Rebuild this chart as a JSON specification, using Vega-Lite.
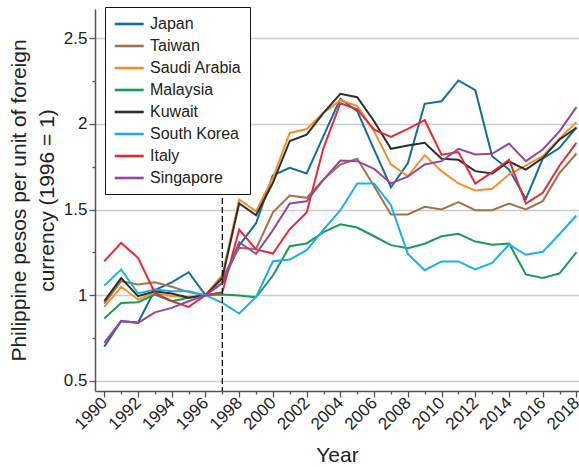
{
  "$schema": "https://vega.github.io/schema/vega-lite/v6.json",
  "autosize": {"type": "none"},
  "padding": {"left": 95, "top": 9, "right": 0, "bottom": 76},
  "width": 484,
  "height": 382,
  "background": "white",
  "config": {
    "view": {"stroke": null},
    "font": "Liberation Sans",
    "axis": {
      "domainColor": "#555", "domainWidth": 1.5, "tickColor": "#555", "tickWidth": 1.3,
      "labelColor": "#222", "titleColor": "#222", "labelFont": "Liberation Sans", "titleFont": "Liberation Sans",
      "titleFontWeight": "normal", "labelFontSize": 17, "titleFontSize": 21, "labelOverlap": false
    }
  },
  "datasets": {
    "fx": [
      {"country":"Japan","year":1990,"value":0.70},{"country":"Japan","year":1991,"value":0.848},{"country":"Japan","year":1992,"value":0.84},{"country":"Japan","year":1993,"value":1.03},{"country":"Japan","year":1994,"value":1.075},{"country":"Japan","year":1995,"value":1.134},{"country":"Japan","year":1996,"value":1.0},{"country":"Japan","year":1997,"value":1.07},{"country":"Japan","year":1998,"value":1.29},{"country":"Japan","year":1999,"value":1.42},{"country":"Japan","year":2000,"value":1.70},{"country":"Japan","year":2001,"value":1.743},{"country":"Japan","year":2002,"value":1.71},{"country":"Japan","year":2003,"value":1.93},{"country":"Japan","year":2004,"value":2.146},{"country":"Japan","year":2005,"value":2.074},{"country":"Japan","year":2006,"value":1.85},{"country":"Japan","year":2007,"value":1.63},{"country":"Japan","year":2008,"value":1.77},{"country":"Japan","year":2009,"value":2.117},{"country":"Japan","year":2010,"value":2.132},{"country":"Japan","year":2011,"value":2.253},{"country":"Japan","year":2012,"value":2.196},{"country":"Japan","year":2013,"value":1.811},{"country":"Japan","year":2014,"value":1.733},{"country":"Japan","year":2015,"value":1.562},{"country":"Japan","year":2016,"value":1.796},{"country":"Japan","year":2017,"value":1.86},{"country":"Japan","year":2018,"value":1.98},
      {"country":"Taiwan","year":1990,"value":0.951},{"country":"Taiwan","year":1991,"value":1.082},{"country":"Taiwan","year":1992,"value":1.062},{"country":"Taiwan","year":1993,"value":1.076},{"country":"Taiwan","year":1994,"value":1.049},{"country":"Taiwan","year":1995,"value":1.018},{"country":"Taiwan","year":1996,"value":1.0},{"country":"Taiwan","year":1997,"value":1.10},{"country":"Taiwan","year":1998,"value":1.276},{"country":"Taiwan","year":1999,"value":1.27},{"country":"Taiwan","year":2000,"value":1.484},{"country":"Taiwan","year":2001,"value":1.582},{"country":"Taiwan","year":2002,"value":1.568},{"country":"Taiwan","year":2003,"value":1.675},{"country":"Taiwan","year":2004,"value":1.763},{"country":"Taiwan","year":2005,"value":1.796},{"country":"Taiwan","year":2006,"value":1.636},{"country":"Taiwan","year":2007,"value":1.471},{"country":"Taiwan","year":2008,"value":1.471},{"country":"Taiwan","year":2009,"value":1.516},{"country":"Taiwan","year":2010,"value":1.5},{"country":"Taiwan","year":2011,"value":1.543},{"country":"Taiwan","year":2012,"value":1.496},{"country":"Taiwan","year":2013,"value":1.496},{"country":"Taiwan","year":2014,"value":1.535},{"country":"Taiwan","year":2015,"value":1.5},{"country":"Taiwan","year":2016,"value":1.549},{"country":"Taiwan","year":2017,"value":1.714},{"country":"Taiwan","year":2018,"value":1.827},
      {"country":"Saudi Arabia","year":1990,"value":0.932},{"country":"Saudi Arabia","year":1991,"value":1.049},{"country":"Saudi Arabia","year":1992,"value":0.975},{"country":"Saudi Arabia","year":1993,"value":1.014},{"country":"Saudi Arabia","year":1994,"value":0.995},{"country":"Saudi Arabia","year":1995,"value":0.99},{"country":"Saudi Arabia","year":1996,"value":1.0},{"country":"Saudi Arabia","year":1997,"value":1.118},{"country":"Saudi Arabia","year":1998,"value":1.558},{"country":"Saudi Arabia","year":1999,"value":1.49},{"country":"Saudi Arabia","year":2000,"value":1.685},{"country":"Saudi Arabia","year":2001,"value":1.947},{"country":"Saudi Arabia","year":2002,"value":1.97},{"country":"Saudi Arabia","year":2003,"value":2.064},{"country":"Saudi Arabia","year":2004,"value":2.138},{"country":"Saudi Arabia","year":2005,"value":2.103},{"country":"Saudi Arabia","year":2006,"value":1.957},{"country":"Saudi Arabia","year":2007,"value":1.763},{"country":"Saudi Arabia","year":2008,"value":1.694},{"country":"Saudi Arabia","year":2009,"value":1.817},{"country":"Saudi Arabia","year":2010,"value":1.724},{"country":"Saudi Arabia","year":2011,"value":1.652},{"country":"Saudi Arabia","year":2012,"value":1.611},{"country":"Saudi Arabia","year":2013,"value":1.621},{"country":"Saudi Arabia","year":2014,"value":1.704},{"country":"Saudi Arabia","year":2015,"value":1.757},{"country":"Saudi Arabia","year":2016,"value":1.811},{"country":"Saudi Arabia","year":2017,"value":1.914},{"country":"Saudi Arabia","year":2018,"value":2.01},
      {"country":"Malaysia","year":1990,"value":0.864},{"country":"Malaysia","year":1991,"value":0.955},{"country":"Malaysia","year":1992,"value":0.959},{"country":"Malaysia","year":1993,"value":1.004},{"country":"Malaysia","year":1994,"value":0.965},{"country":"Malaysia","year":1995,"value":0.985},{"country":"Malaysia","year":1996,"value":1.0},{"country":"Malaysia","year":1997,"value":1.004},{"country":"Malaysia","year":1998,"value":0.998},{"country":"Malaysia","year":1999,"value":0.988},{"country":"Malaysia","year":2000,"value":1.115},{"country":"Malaysia","year":2001,"value":1.286},{"country":"Malaysia","year":2002,"value":1.302},{"country":"Malaysia","year":2003,"value":1.368},{"country":"Malaysia","year":2004,"value":1.414},{"country":"Malaysia","year":2005,"value":1.395},{"country":"Malaysia","year":2006,"value":1.344},{"country":"Malaysia","year":2007,"value":1.292},{"country":"Malaysia","year":2008,"value":1.274},{"country":"Malaysia","year":2009,"value":1.30},{"country":"Malaysia","year":2010,"value":1.344},{"country":"Malaysia","year":2011,"value":1.358},{"country":"Malaysia","year":2012,"value":1.313},{"country":"Malaysia","year":2013,"value":1.294},{"country":"Malaysia","year":2014,"value":1.302},{"country":"Malaysia","year":2015,"value":1.121},{"country":"Malaysia","year":2016,"value":1.10},{"country":"Malaysia","year":2017,"value":1.127},{"country":"Malaysia","year":2018,"value":1.251},
      {"country":"Kuwait","year":1990,"value":0.965},{"country":"Kuwait","year":1991,"value":1.10},{"country":"Kuwait","year":1992,"value":0.994},{"country":"Kuwait","year":1993,"value":1.023},{"country":"Kuwait","year":1994,"value":1.01},{"country":"Kuwait","year":1995,"value":0.985},{"country":"Kuwait","year":1996,"value":1.0},{"country":"Kuwait","year":1997,"value":1.10},{"country":"Kuwait","year":1998,"value":1.535},{"country":"Kuwait","year":1999,"value":1.467},{"country":"Kuwait","year":2000,"value":1.656},{"country":"Kuwait","year":2001,"value":1.90},{"country":"Kuwait","year":2002,"value":1.937},{"country":"Kuwait","year":2003,"value":2.064},{"country":"Kuwait","year":2004,"value":2.175},{"country":"Kuwait","year":2005,"value":2.155},{"country":"Kuwait","year":2006,"value":2.015},{"country":"Kuwait","year":2007,"value":1.854},{"country":"Kuwait","year":2008,"value":1.874},{"country":"Kuwait","year":2009,"value":1.889},{"country":"Kuwait","year":2010,"value":1.796},{"country":"Kuwait","year":2011,"value":1.79},{"country":"Kuwait","year":2012,"value":1.724},{"country":"Kuwait","year":2013,"value":1.71},{"country":"Kuwait","year":2014,"value":1.78},{"country":"Kuwait","year":2015,"value":1.733},{"country":"Kuwait","year":2016,"value":1.80},{"country":"Kuwait","year":2017,"value":1.909},{"country":"Kuwait","year":2018,"value":1.977},
      {"country":"South Korea","year":1990,"value":1.056},{"country":"South Korea","year":1991,"value":1.15},{"country":"South Korea","year":1992,"value":1.01},{"country":"South Korea","year":1993,"value":1.033},{"country":"South Korea","year":1994,"value":1.023},{"country":"South Korea","year":1995,"value":1.023},{"country":"South Korea","year":1996,"value":1.0},{"country":"South Korea","year":1997,"value":0.955},{"country":"South Korea","year":1998,"value":0.893},{"country":"South Korea","year":1999,"value":0.99},{"country":"South Korea","year":2000,"value":1.198},{"country":"South Korea","year":2001,"value":1.208},{"country":"South Korea","year":2002,"value":1.263},{"country":"South Korea","year":2003,"value":1.383},{"country":"South Korea","year":2004,"value":1.496},{"country":"South Korea","year":2005,"value":1.652},{"country":"South Korea","year":2006,"value":1.652},{"country":"South Korea","year":2007,"value":1.525},{"country":"South Korea","year":2008,"value":1.241},{"country":"South Korea","year":2009,"value":1.146},{"country":"South Korea","year":2010,"value":1.197},{"country":"South Korea","year":2011,"value":1.197},{"country":"South Korea","year":2012,"value":1.15},{"country":"South Korea","year":2013,"value":1.189},{"country":"South Korea","year":2014,"value":1.296},{"country":"South Korea","year":2015,"value":1.236},{"country":"South Korea","year":2016,"value":1.253},{"country":"South Korea","year":2017,"value":1.357},{"country":"South Korea","year":2018,"value":1.465},
      {"country":"Italy","year":1990,"value":1.198},{"country":"Italy","year":1991,"value":1.305},{"country":"Italy","year":1992,"value":1.218},{"country":"Italy","year":1993,"value":1.014},{"country":"Italy","year":1994,"value":0.965},{"country":"Italy","year":1995,"value":0.932},{"country":"Italy","year":1996,"value":1.0},{"country":"Italy","year":1997,"value":1.017},{"country":"Italy","year":1998,"value":1.383},{"country":"Italy","year":1999,"value":1.267},{"country":"Italy","year":2000,"value":1.243},{"country":"Italy","year":2001,"value":1.386},{"country":"Italy","year":2002,"value":1.483},{"country":"Italy","year":2003,"value":1.86},{"country":"Italy","year":2004,"value":2.12},{"country":"Italy","year":2005,"value":2.085},{"country":"Italy","year":2006,"value":1.966},{"country":"Italy","year":2007,"value":1.923},{"country":"Italy","year":2008,"value":1.97},{"country":"Italy","year":2009,"value":2.021},{"country":"Italy","year":2010,"value":1.82},{"country":"Italy","year":2011,"value":1.835},{"country":"Italy","year":2012,"value":1.652},{"country":"Italy","year":2013,"value":1.718},{"country":"Italy","year":2014,"value":1.79},{"country":"Italy","year":2015,"value":1.535},{"country":"Italy","year":2016,"value":1.597},{"country":"Italy","year":2017,"value":1.757},{"country":"Italy","year":2018,"value":1.889},
      {"country":"Singapore","year":1990,"value":0.722},{"country":"Singapore","year":1991,"value":0.85},{"country":"Singapore","year":1992,"value":0.838},{"country":"Singapore","year":1993,"value":0.90},{"country":"Singapore","year":1994,"value":0.926},{"country":"Singapore","year":1995,"value":0.965},{"country":"Singapore","year":1996,"value":1.0},{"country":"Singapore","year":1997,"value":1.072},{"country":"Singapore","year":1998,"value":1.309},{"country":"Singapore","year":1999,"value":1.241},{"country":"Singapore","year":2000,"value":1.38},{"country":"Singapore","year":2001,"value":1.535},{"country":"Singapore","year":2002,"value":1.548},{"country":"Singapore","year":2003,"value":1.675},{"country":"Singapore","year":2004,"value":1.786},{"country":"Singapore","year":2005,"value":1.782},{"country":"Singapore","year":2006,"value":1.737},{"country":"Singapore","year":2007,"value":1.652},{"country":"Singapore","year":2008,"value":1.692},{"country":"Singapore","year":2009,"value":1.763},{"country":"Singapore","year":2010,"value":1.782},{"country":"Singapore","year":2011,"value":1.854},{"country":"Singapore","year":2012,"value":1.821},{"country":"Singapore","year":2013,"value":1.825},{"country":"Singapore","year":2014,"value":1.885},{"country":"Singapore","year":2015,"value":1.782},{"country":"Singapore","year":2016,"value":1.85},{"country":"Singapore","year":2017,"value":1.957},{"country":"Singapore","year":2018,"value":2.097}
    ],
    "marker": [{"year": 1997}]
  },
  "encoding": {
    "x": {
      "field": "year", "type": "quantitative",
      "scale": {"domain": [1989.45, 2018.15], "nice": false, "zero": false},
      "axis": {
        "title": "Year", "titlePadding": 12,
        "values": [1990,1991,1992,1993,1994,1995,1996,1997,1998,1999,2000,2001,2002,2003,2004,2005,2006,2007,2008,2009,2010,2011,2012,2013,2014,2015,2016,2017,2018],
        "format": "d",
        "labelExpr": "datum.value % 2 == 0 ? datum.label : ''",
        "tickSize": {"condition": {"test": "datum.value % 2 == 0", "value": 6}, "value": 3},
        "labelAngle": -45, "labelAlign": "right", "labelBaseline": "middle", "labelPadding": 3,
        "grid": false, "labelFlush": false, "labelOverlap": false, "labelBound": false
      }
    }
  },
  "layer": [
    {
      "data": {"name": "fx"},
      "mark": {"type": "line", "strokeWidth": 2, "clip": true},
      "encoding": {
        "y": {
          "field": "value", "type": "quantitative",
          "scale": {"domain": [0.441, 2.67], "nice": false, "zero": false},
          "axis": {
            "title": ["Philippine pesos per unit of foreign", "currency (1996 = 1)"],
            "titleLineHeight": 28, "titlePadding": 6,
            "values": [0.5,0.75,1,1.25,1.5,1.75,2,2.25,2.5],
            "format": "~g",
            "labelExpr": "(datum.value * 2) % 1 == 0 ? datum.label : ''",
            "tickSize": {"condition": {"test": "(datum.value * 2) % 1 == 0", "value": 6}, "value": 3},
            "labelPadding": 2,
            "grid": true, "gridColor": "#cccccc", "gridWidth": 1.3,
            "gridOpacity": {"condition": {"test": "(datum.value * 2) % 1 == 0", "value": 1}, "value": 0},
            "labelOverlap": false, "labelFlush": false
          }
        },
        "stroke": {
          "field": "country", "type": "nominal",
          "scale": {
            "domain": ["Japan","Taiwan","Saudi Arabia","Malaysia","Kuwait","South Korea","Italy","Singapore"],
            "range": ["#126d9d","#a5714a","#f68f25","#169c55","#2e2e2e","#1bafe6","#e92a35","#97469c"]
          },
          "legend": {
            "orient": "none", "legendX": 10, "legendY": -2, "title": null,
            "strokeColor": "#111", "fillColor": "white", "padding": 8,
            "symbolType": "M-1,0H3", "symbolSize": 210, "symbolStrokeWidth": 2.6,
            "labelFontSize": 16, "labelFont": "Liberation Sans", "labelColor": "#222",
            "rowPadding": 5, "labelOffset": 19
          }
        }
      }
    },
    {
      "data": {"name": "marker"},
      "mark": {"type": "rule", "color": "#111", "strokeWidth": 1.3, "strokeDash": [6, 3]},
      "encoding": {}
    }
  ]
}
